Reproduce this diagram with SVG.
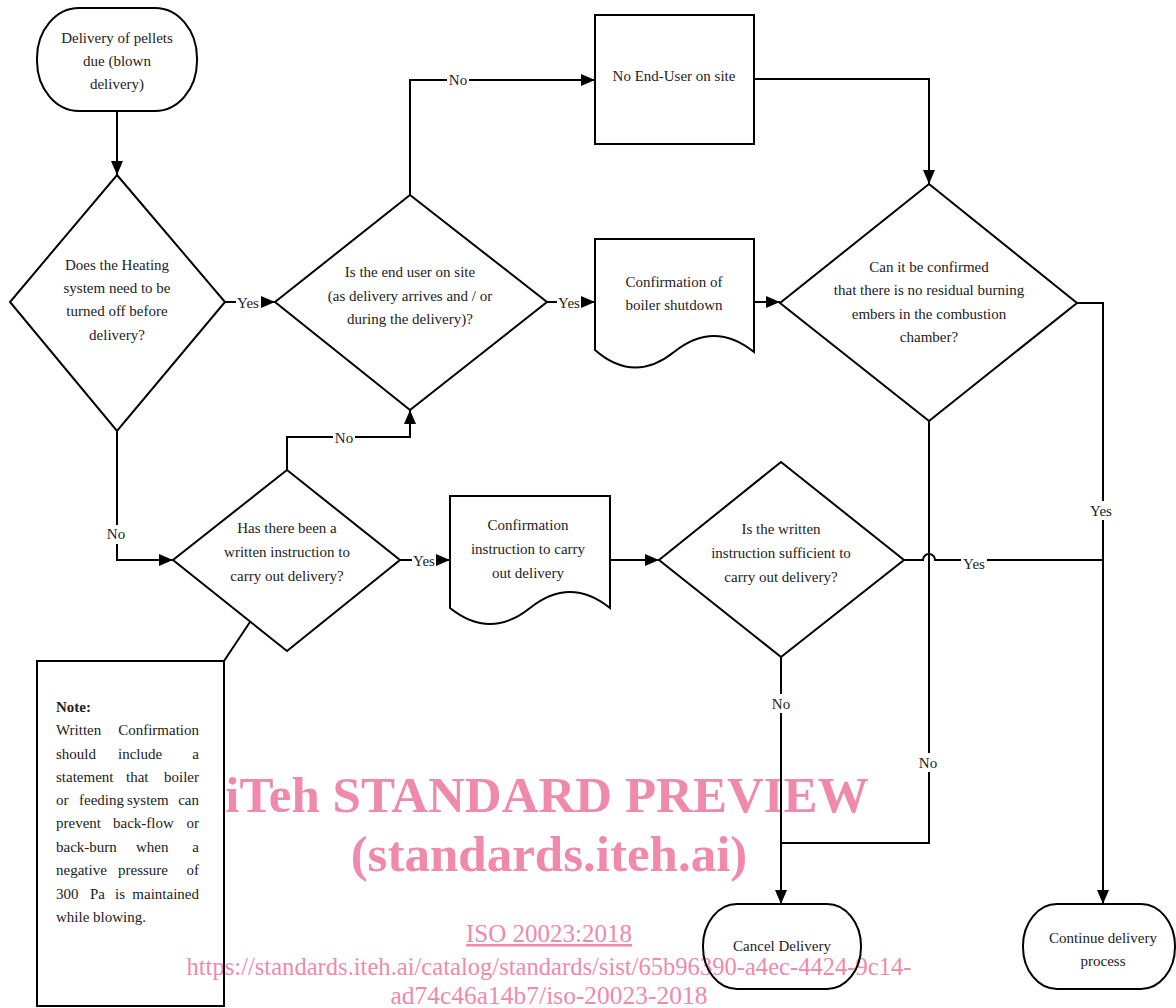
<svg xmlns="http://www.w3.org/2000/svg" width="1176" height="1008" viewBox="0 0 1176 1008">
<defs>
<marker id="arr" markerUnits="userSpaceOnUse" markerWidth="14" markerHeight="12" refX="14" refY="6" orient="auto">
<path d="M0,0 L14,6 L0,12 z" fill="#000"/>
</marker>
<style>
.s{fill:none;stroke:#000;stroke-width:2;stroke-linejoin:miter}
.c{fill:none;stroke:#000;stroke-width:2}
.t{font-family:"Liberation Serif",serif;font-size:15px;fill:#222;text-anchor:middle}
.n{font-family:"Liberation Serif",serif;font-size:15px;fill:#222}
.e{text-anchor:end}
.lb{fill:#fff}
.wm{font-family:"Liberation Serif","Times New Roman",serif;fill:#ef8aab;text-anchor:middle}
</style>
</defs>
<rect width="1176" height="1008" fill="#fff"/>

<g id="watermark">
<text class="wm" x="547" y="812" font-size="51" font-weight="bold">iTeh STANDARD PREVIEW</text>
<text class="wm" x="549" y="871" font-size="51" font-weight="bold">(standards.iteh.ai)</text>
<text class="wm" x="549" y="942" font-size="25" text-decoration="underline">ISO 20023:2018</text>
<text class="wm" x="549" y="975" font-size="25" textLength="725" lengthAdjust="spacingAndGlyphs">https://standards.iteh.ai/catalog/standards/sist/65b96390-a4ec-4424-9c14-</text>
<text class="wm" x="549" y="1004" font-size="25" textLength="317" lengthAdjust="spacingAndGlyphs">ad74c46a14b7/iso-20023-2018</text>
</g>

<g id="connectors">
<path class="c" d="M117,111 V175" marker-end="url(#arr)"/>
<path class="c" d="M225,302 H275" marker-end="url(#arr)"/>
<path class="c" d="M410,195 V80 H595" marker-end="url(#arr)"/>
<path class="c" d="M754,79 H929 V184" marker-end="url(#arr)"/>
<path class="c" d="M547,302 H595" marker-end="url(#arr)"/>
<path class="c" d="M754,302 H780" marker-end="url(#arr)"/>
<path class="c" d="M117,431 V560 H173" marker-end="url(#arr)"/>
<path class="c" d="M287,470 V437 H410 V410" marker-end="url(#arr)"/>
<path class="c" d="M400,560 H450" marker-end="url(#arr)"/>
<path class="c" d="M610,560 H659" marker-end="url(#arr)"/>
<path class="c" d="M904,560 H923 A6,6 0 0 1 935,560 H1103"/>
<path class="c" d="M1077,303 H1103 V904" marker-end="url(#arr)"/>
<path class="c" d="M929,421 V843 H781"/>
<path class="c" d="M781,657 V904" marker-end="url(#arr)"/>
<path class="c" d="M224,661 L250,622"/>
<g id="labels">
<rect class="lb" x="236" y="293" width="25" height="19"/><text class="t" x="248" y="308">Yes</text>
<rect class="lb" x="447" y="71" width="22" height="19"/><text class="t" x="458" y="85">No</text>
<rect class="lb" x="557" y="293" width="24" height="19"/><text class="t" x="569" y="308">Yes</text>
<rect class="lb" x="105" y="525" width="22" height="19"/><text class="t" x="116" y="539">No</text>
<rect class="lb" x="333" y="428" width="22" height="19"/><text class="t" x="344" y="443">No</text>
<rect class="lb" x="412" y="551" width="24" height="19"/><text class="t" x="424" y="566">Yes</text>
<rect class="lb" x="961" y="554" width="26" height="19"/><text class="t" x="974" y="569">Yes</text>
<rect class="lb" x="1088" y="501" width="26" height="19"/><text class="t" x="1101" y="516">Yes</text>
<rect class="lb" x="770" y="694" width="22" height="19"/><text class="t" x="781" y="709">No</text>
<rect class="lb" x="917" y="753" width="22" height="19"/><text class="t" x="928" y="768">No</text>
</g>
</g>

<g id="start">
<rect class="s" x="37" y="8" width="160" height="103" rx="42" ry="50"/>
<text class="t" x="117" y="43">Delivery of pellets</text>
<text class="t" x="117" y="66">due (blown</text>
<text class="t" x="117" y="89">delivery)</text>
</g>

<g id="d1">
<polygon class="s" points="117,175 225,302 117,431 10,302"/>
<text class="t" x="117" y="270">Does the Heating</text>
<text class="t" x="117" y="293">system need to be</text>
<text class="t" x="117" y="316">turned off before</text>
<text class="t" x="117" y="340">delivery?</text>
</g>

<g id="d2">
<polygon class="s" points="410,195 547,302 410,410 275,302"/>
<text class="t" x="410" y="277">Is the end user on site</text>
<text class="t" x="410" y="301">(as delivery arrives and / or</text>
<text class="t" x="410" y="324">during the delivery)?</text>
</g>

<g id="box-no-user">
<rect class="s" x="595" y="15" width="159" height="129"/>
<text class="t" x="674" y="81">No End-User on site</text>
</g>

<g id="doc1">
<path class="s" d="M595,239 H754 V352 Q714,320 674,352 T595,350 Z"/>
<text class="t" x="674" y="287">Confirmation of</text>
<text class="t" x="674" y="310">boiler shutdown</text>
</g>

<g id="d3">
<polygon class="s" points="929,184 1077,303 929,421 780,303"/>
<text class="t" x="929" y="272">Can it be confirmed</text>
<text class="t" x="929" y="295">that there is no residual burning</text>
<text class="t" x="929" y="319">embers in the combustion</text>
<text class="t" x="929" y="342">chamber?</text>
</g>

<g id="d4">
<polygon class="s" points="287,470 400,560 287,651 173,560"/>
<text class="t" x="287" y="533">Has there been a</text>
<text class="t" x="287" y="557">written instruction to</text>
<text class="t" x="287" y="581">carry out delivery?</text>
</g>

<g id="doc2">
<path class="s" d="M450,496 H610 V608 Q570,576 530,608 T450,608 Z"/>
<text class="t" x="528" y="530">Confirmation</text>
<text class="t" x="528" y="554">instruction to carry</text>
<text class="t" x="528" y="578">out delivery</text>
</g>

<g id="d5">
<polygon class="s" points="781,462 904,560 781,657 659,560"/>
<text class="t" x="781" y="534">Is the written</text>
<text class="t" x="781" y="558">instruction sufficient to</text>
<text class="t" x="781" y="582">carry out delivery?</text>
</g>

<g id="note">
<rect class="s" x="37" y="661" width="187" height="345"/>
<text class="n" x="56" y="712" font-weight="bold">Note:</text>
<text class="n" x="56" y="735">Written</text><text class="n e" x="199" y="735">Confirmation</text>
<text class="n" x="56" y="759">should</text><text class="n" x="118" y="759">include</text><text class="n e" x="199" y="759">a</text>
<text class="n" x="56" y="782">statement</text><text class="n" x="126" y="782">that</text><text class="n e" x="199" y="782">boiler</text>
<text class="n" x="56" y="805">or</text><text class="n" x="79" y="805">feeding</text><text class="n" x="127" y="805">system</text><text class="n e" x="199" y="805">can</text>
<text class="n" x="56" y="828">prevent</text><text class="n" x="113" y="828">back-flow</text><text class="n e" x="199" y="828">or</text>
<text class="n" x="56" y="852">back-burn</text><text class="n" x="136" y="852">when</text><text class="n e" x="199" y="852">a</text>
<text class="n" x="56" y="875">negative</text><text class="n" x="118" y="875">pressure</text><text class="n e" x="199" y="875">of</text>
<text class="n" x="56" y="899">300</text><text class="n" x="90" y="899">Pa</text><text class="n" x="115" y="899">is</text><text class="n e" x="199" y="899">maintained</text>
<text class="n" x="56" y="922">while blowing.</text>
</g>

<g id="cancel">
<rect class="s" x="703" y="904" width="158" height="85" rx="34" ry="42"/>
<text class="t" x="782" y="951" font-size="14">Cancel Delivery</text>
</g>

<g id="continue">
<rect class="s" x="1023" y="904" width="152" height="85" rx="34" ry="42"/>
<text class="t" x="1103" y="943">Continue delivery</text>
<text class="t" x="1103" y="966">process</text>
</g>
</svg>
